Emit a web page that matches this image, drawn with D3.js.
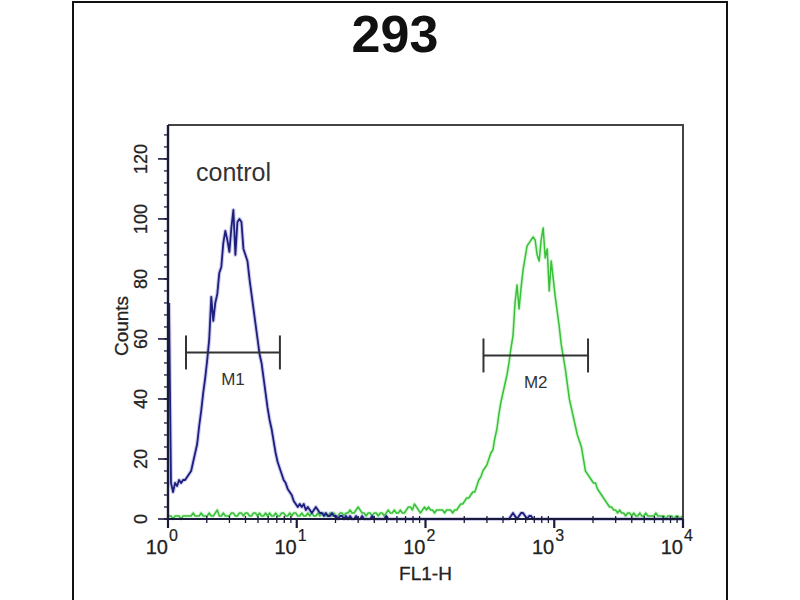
<!DOCTYPE html>
<html><head><meta charset="utf-8">
<script src="https://cdn.jsdelivr.net/npm/d3@7"></script>
<style>
html,body{margin:0;padding:0;background:#fff;}
svg{display:block;}
text{font-family:"Liberation Sans",Arial,sans-serif;}
</style></head>
<body>
<svg id="chart" width="800" height="600"></svg>
<script>
// ---- data ----
const title = "293";
const sampleLabel = "control";
const xLabel = "FL1-H";
const yLabel = "Counts";
const channelsPerDecade = 64;
const yTickValues = [0, 20, 40, 60, 80, 100, 120];
const xTickExponents = [0, 1, 2, 3, 4];
// histogram counts, one per channel (256 channels over 4 decades)
const controlCounts = [
 72,12,9,12,11,13,12,13,13,14,
 15,16,19,22,25,31,36,42,47,53,
 60,74,66,72,75,82,84,92,96,93,
 89,97,103,88,99,100,99,90,88,86,
 80,75,70,65,60,55,52,47,42,37,
 33,30,26,22,19,17,15,13,12,10,
 9,8,6,5,4,5,4,5,3,4,
 3,2,3,4,3,2,2,1,2,1,
 1,2,1,1,0,1,1,0,1,0,
 1,0,0,1,0,0,1,0,0,0,
 0,1,0,0,0,0,0,0,1,0,
 0,0,0,0,0,0,0,0,0,0,
 0,0,0,0,0,0,0,0,0,0,
 0,0,0,0,0,0,0,0,0,0,
 0,0,0,0,0,0,0,0,0,0,
 0,0,0,0,0,0,0,0,0,0,
 0,0,0,0,0,0,0,0,0,0,
 1,2,1,0,1,2,2,1,0,1,
 1,0,0,0,0,0,0,0,0,0,
 0,0,0,0,0,0,0,0,0,0,
 0,0,0,0,0,0,0,0,0,0,
 0,0,0,0,0,0,0,0,0,0,
 0,0,0,0,0,0,0,0,0,0,
 0,0,0,0,0,0,0,0,0,0,
 0,0,0,0,0,0,0,0,0,0,
 0,0,0,0,0,0
];
const sampleCounts = [
 1,1,0,1,1,1,0,1,1,1,
 1,1,2,1,1,1,2,1,1,1,
 2,1,1,2,3,1,1,2,1,1,
 1,2,2,1,1,2,2,1,2,2,
 1,1,2,2,1,2,1,1,2,1,
 2,1,1,2,1,1,2,2,1,1,
 2,1,2,2,1,1,2,1,1,2,
 1,2,1,1,2,1,2,2,1,1,
 2,1,2,1,1,2,2,1,2,2,
 3,2,2,3,4,3,2,2,1,2,
 2,1,2,2,1,2,2,1,2,3,
 2,2,3,2,2,3,2,2,3,4,
 4,3,5,4,3,2,3,4,3,4,
 3,3,2,3,3,3,3,2,3,3,
 3,2,3,3,4,5,5,6,7,7,
 8,9,9,11,13,14,16,17,18,20,
 22,23,27,30,35,39,42,45,48,52,
 57,61,72,78,70,77,83,87,91,92,
 93,94,93,88,86,93,97,87,90,76,
 86,80,74,69,64,58,54,50,45,40,
 37,34,31,28,26,24,20,16,15,14,
 13,12,12,10,9,8,7,6,5,4,
 4,3,3,2,3,2,2,1,2,2,
 1,2,1,1,2,1,1,2,1,1,
 1,1,2,1,1,1,1,0,1,1,
 1,0,1,1,0,1
];
// marker gates
const markerNames = ["M1", "M2"];
const markerFrom = [1.38, 282];
const markerTo = [7.4, 1830];
const markerLevel = [55.5, 54.5];

// ---- layout ----
const svg = d3.select("#chart");
const L = 168, R = 683, T = 125, B = 519;
const x = d3.scaleLog().domain([1, 10000]).range([L, R]);
const y = d3.scaleLinear().domain([0, 131.3]).range([B, T]);

// outer frame
svg.append("path").attr("d", "M73,601V2H727V601").attr("fill", "none")
  .attr("stroke", "#111").attr("stroke-width", 2);

// title
svg.append("text").attr("x", 395).attr("y", 52).attr("text-anchor", "middle")
  .attr("font-size", 52).attr("font-weight", "bold").attr("fill", "#111").text(title);

// histogram lines
const chanValue = i => Math.pow(10, (i + 0.5) / channelsPerDecade);
const line = d3.line().x((d, i) => x(chanValue(i))).y(d => y(d));
function drawHist(data, halo, col, w) {
  svg.append("path").attr("d", line(data)).attr("fill", "none")
    .attr("stroke", halo).attr("stroke-width", w + 2.2).attr("stroke-opacity", 0.45)
    .attr("stroke-linejoin", "round");
  svg.append("path").attr("d", line(data)).attr("fill", "none")
    .attr("stroke", col).attr("stroke-width", w).attr("stroke-linejoin", "round");
}
drawHist(sampleCounts, "#a6eea6", "#38c038", 1.5);
drawHist(controlCounts, "#8f8fdc", "#1e1e7c", 1.8);

// plot box top/right
svg.append("path").attr("d", `M${L},${T}H${R}V${B}`).attr("fill", "none")
  .attr("stroke", "#444").attr("stroke-width", 2);

// axes
const ax = svg.append("g").attr("stroke", "#1a1a3a");
ax.append("line").attr("x1", L).attr("x2", L).attr("y1", T).attr("y2", B + 1).attr("stroke-width", 2.4);
ax.append("line").attr("x1", L - 1).attr("x2", R).attr("y1", B).attr("y2", B).attr("stroke-width", 2.2);
d3.range(0, 131, 4).forEach(v => {
  ax.append("line").attr("x1", L - 4).attr("x2", L).attr("y1", y(v)).attr("y2", y(v)).attr("stroke-width", 1.3);
});
yTickValues.forEach(v => {
  ax.append("line").attr("x1", L - 10).attr("x2", L).attr("y1", y(v)).attr("y2", y(v)).attr("stroke-width", 1.6);
  svg.append("text").attr("transform", `translate(141,${y(v)}) rotate(-90)`)
    .attr("text-anchor", "middle").attr("dominant-baseline", "central")
    .attr("font-size", 18).attr("fill", "#222").attr("stroke", "#222").attr("stroke-width", 0.3).text(v);
});
xTickExponents.forEach(e => {
  const v = Math.pow(10, e);
  ax.append("line").attr("x1", x(v)).attr("x2", x(v)).attr("y1", B).attr("y2", B + 9).attr("stroke-width", 2.2);
  if (e < 4) {
    d3.range(2, 10).forEach(k => {
      ax.append("line").attr("x1", x(k * v)).attr("x2", x(k * v)).attr("y1", B - 3).attr("y2", B + 4).attr("stroke-width", 1.3);
    });
  }
  svg.append("text").attr("x", x(v)).attr("y", 554).attr("text-anchor", "end")
    .attr("font-size", 20).attr("fill", "#222").attr("stroke", "#222").attr("stroke-width", 0.3).text("10");
  svg.append("text").attr("x", x(v) + 1).attr("y", 541).attr("font-size", 16)
    .attr("fill", "#222").attr("stroke", "#222").attr("stroke-width", 0.2).text(e);
});

// axis labels
svg.append("text").attr("x", (L + R) / 2).attr("y", 580).attr("text-anchor", "middle")
  .attr("font-size", 19).attr("fill", "#222").attr("stroke", "#222").attr("stroke-width", 0.3).text(xLabel);
svg.append("text").attr("transform", "translate(121,326) rotate(-90)")
  .attr("text-anchor", "middle").attr("dominant-baseline", "central")
  .attr("font-size", 19).attr("fill", "#222").attr("stroke", "#222").attr("stroke-width", 0.3).text(yLabel);

// sample label
svg.append("text").attr("x", 196).attr("y", 181).attr("font-size", 25).attr("fill", "#333").text(sampleLabel);

// markers
markerNames.forEach((n, i) => {
  const x1 = x(markerFrom[i]), x2 = x(markerTo[i]), yy = y(markerLevel[i]);
  const g = svg.append("g").attr("stroke", "#333").attr("stroke-width", 2);
  g.append("line").attr("x1", x1).attr("x2", x2).attr("y1", yy).attr("y2", yy);
  g.append("line").attr("x1", x1).attr("x2", x1).attr("y1", yy - 17).attr("y2", yy + 17);
  g.append("line").attr("x1", x2).attr("x2", x2).attr("y1", yy - 17).attr("y2", yy + 17);
  svg.append("text").attr("x", (x1 + x2) / 2).attr("y", yy + 33).attr("text-anchor", "middle")
    .attr("font-size", 17).attr("fill", "#333").text(n);
});
</script>
</body></html>
